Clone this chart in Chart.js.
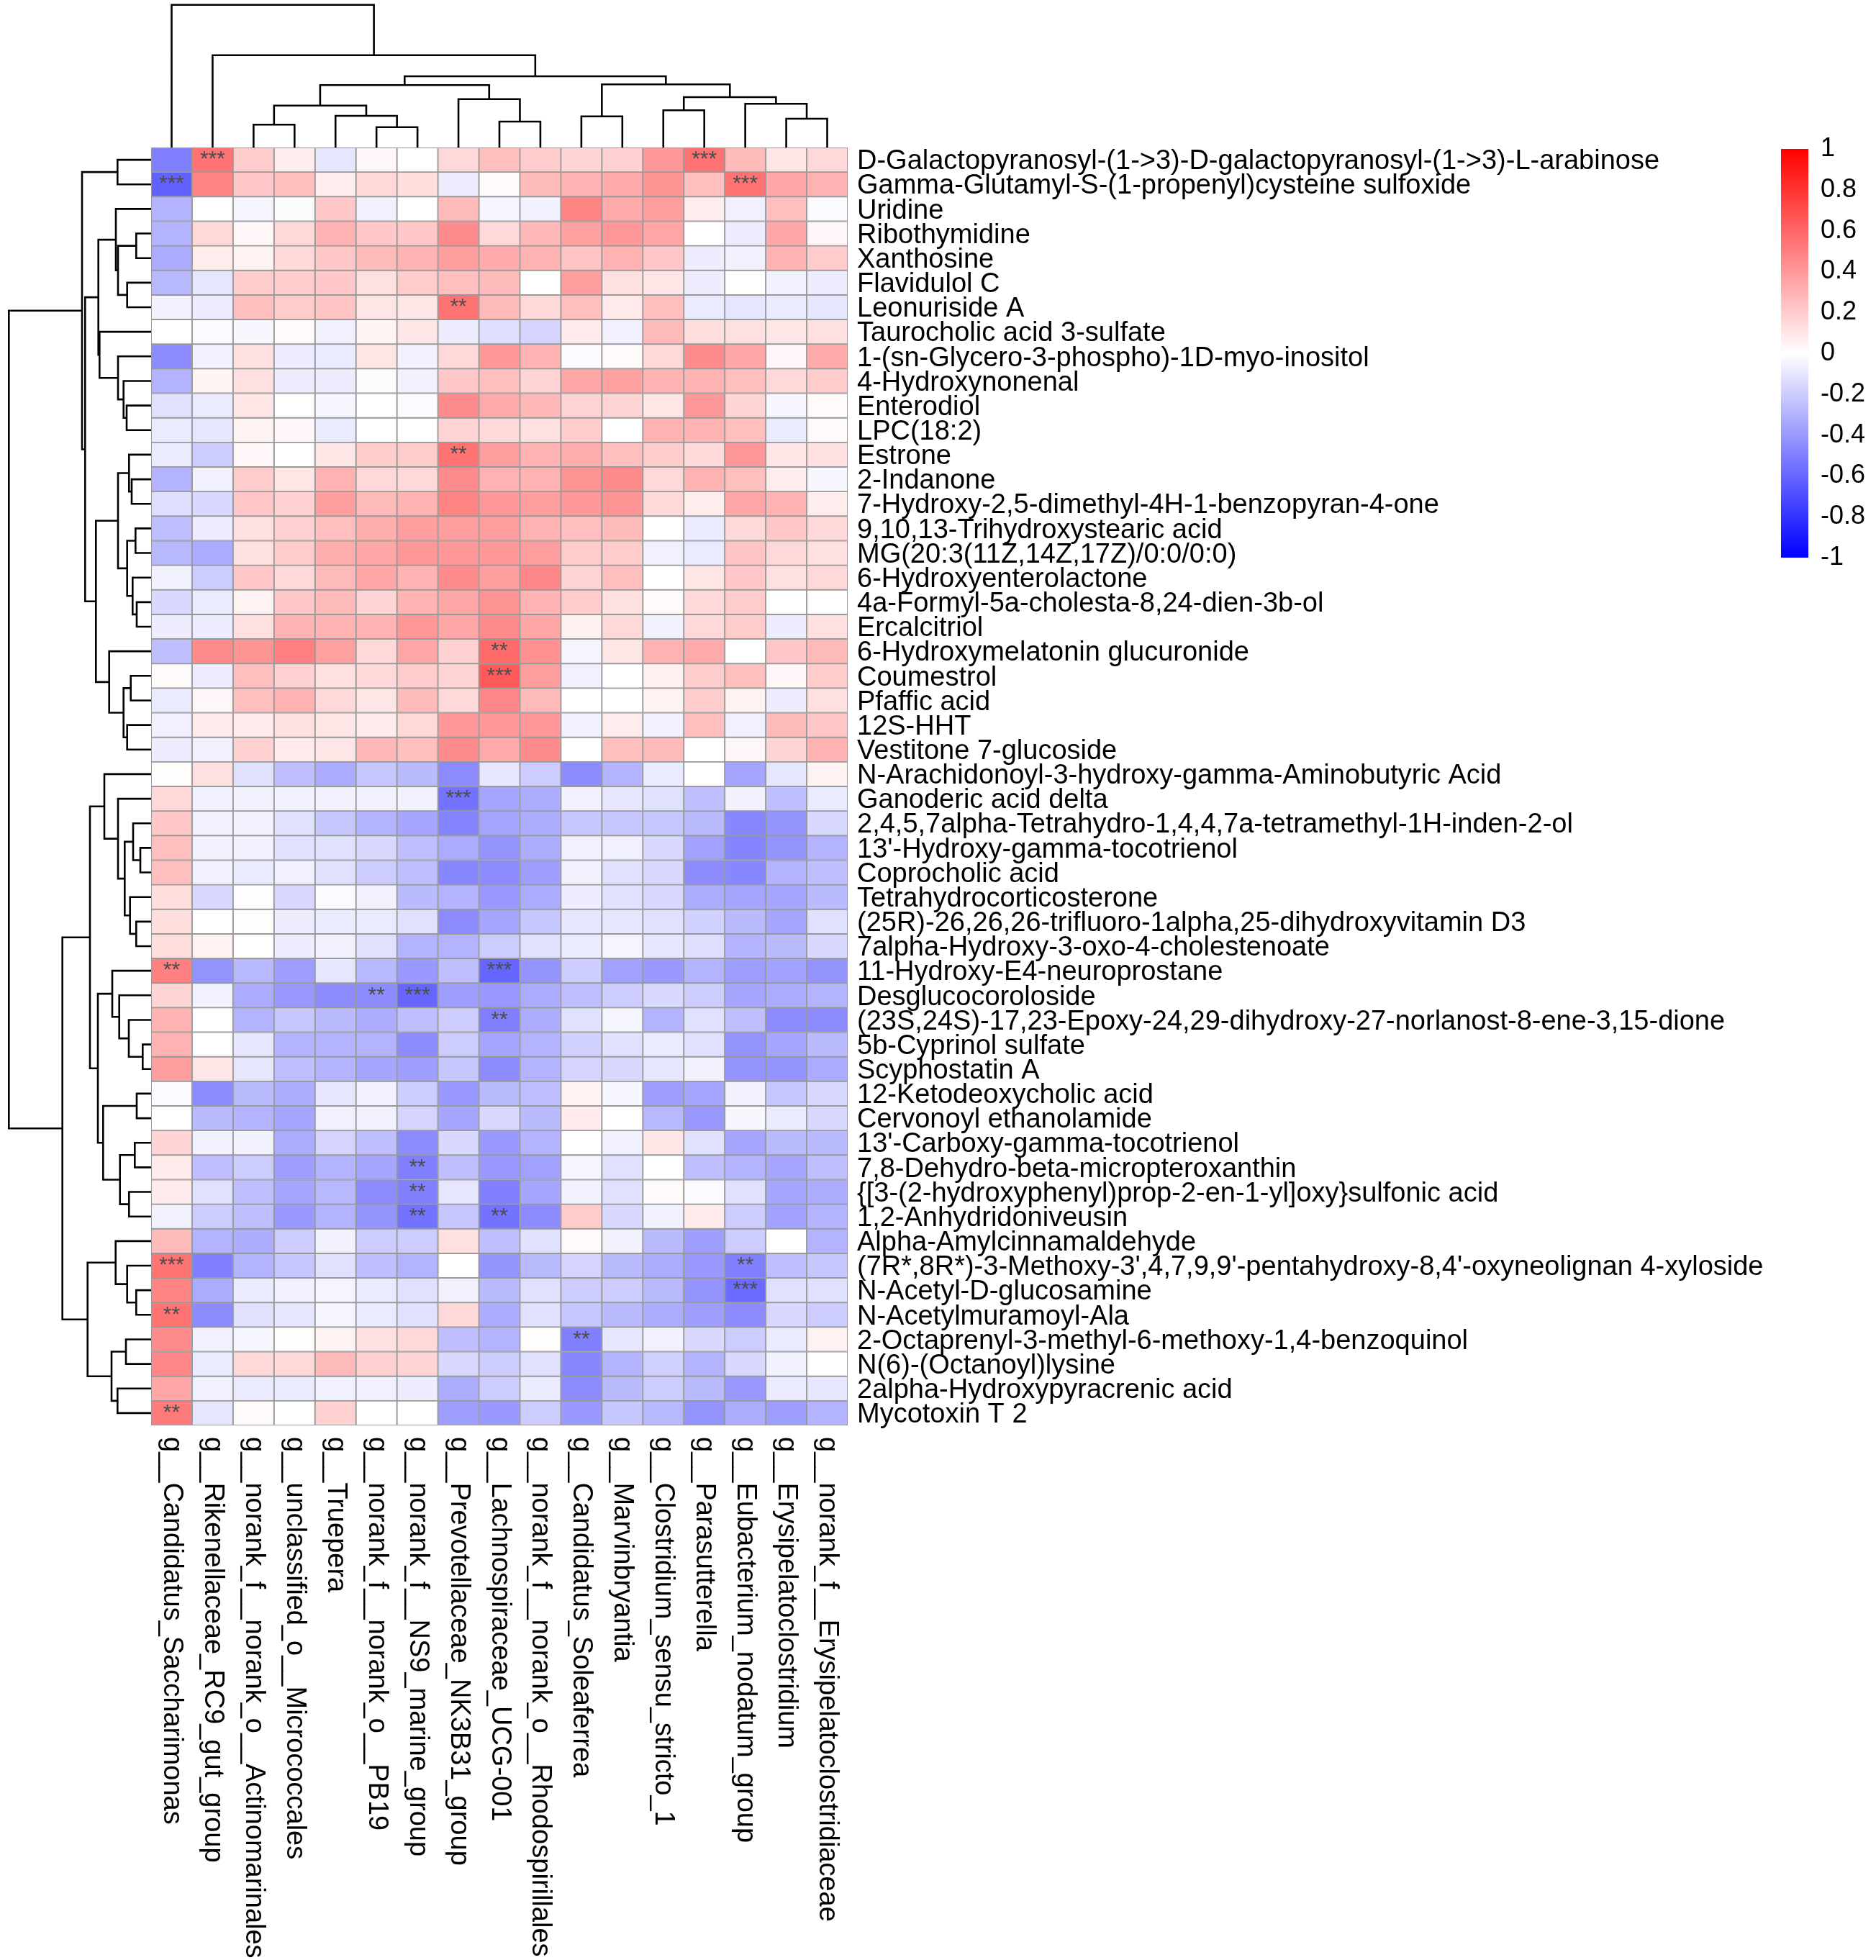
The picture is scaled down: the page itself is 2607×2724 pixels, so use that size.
<!DOCTYPE html>
<html>
<head>
<meta charset="utf-8">
<script src="https://cdn.jsdelivr.net/npm/chart.js@4.4.1/dist/chart.umd.min.js"></script>
<style>
  body { margin: 0; background: #fff; }
  #page { position: relative; width: 2607px; height: 2724px; overflow: hidden; background: #fff; }
  canvas { position: absolute; }
</style>
</head>
<body>
<div id="page">
  <canvas id="heat" width="2607" height="2724" style="left:0;top:0;width:2607px;height:2724px"></canvas>
  <canvas id="topTree" width="968" height="205" style="left:210px;top:0;width:968px;height:205px"></canvas>
  <canvas id="leftTree" width="210" height="1776" style="left:0;top:205px;width:210px;height:1776px"></canvas>
  <canvas id="colorKey" width="132" height="610" style="left:2475px;top:185px;width:132px;height:610px"></canvas>
</div>
<script>
// genera (columns), in dendrogram order
const genera = [
  "g__Candidatus_Saccharimonas", "g__Rikenellaceae_RC9_gut_group",
  "g__norank_f__norank_o__Actinomarinales", "g__unclassified_o__Micrococcales",
  "g__Truepera", "g__norank_f__norank_o__PB19", "g__norank_f__NS9_marine_group",
  "g__Prevotellaceae_NK3B31_group", "g__Lachnospiraceae_UCG-001",
  "g__norank_f__norank_o__Rhodospirillales", "g__Candidatus_Soleaferrea",
  "g__Marvinbryantia", "g__Clostridium_sensu_stricto_1", "g__Parasutterella",
  "g__Eubacterium_nodatum_group", "g__Erysipelatoclostridium",
  "g__norank_f__Erysipelatoclostridiaceae"
];

// metabolites (rows), in dendrogram order
const metabolites = [
  "D-Galactopyranosyl-(1->3)-D-galactopyranosyl-(1->3)-L-arabinose",
  "Gamma-Glutamyl-S-(1-propenyl)cysteine sulfoxide",
  "Uridine", "Ribothymidine", "Xanthosine", "Flavidulol C", "Leonuriside A",
  "Taurocholic acid 3-sulfate", "1-(sn-Glycero-3-phospho)-1D-myo-inositol",
  "4-Hydroxynonenal", "Enterodiol", "LPC(18:2)", "Estrone", "2-Indanone",
  "7-Hydroxy-2,5-dimethyl-4H-1-benzopyran-4-one", "9,10,13-Trihydroxystearic acid",
  "MG(20:3(11Z,14Z,17Z)/0:0/0:0)", "6-Hydroxyenterolactone",
  "4a-Formyl-5a-cholesta-8,24-dien-3b-ol", "Ercalcitriol",
  "6-Hydroxymelatonin glucuronide", "Coumestrol", "Pfaffic acid", "12S-HHT",
  "Vestitone 7-glucoside", "N-Arachidonoyl-3-hydroxy-gamma-Aminobutyric Acid",
  "Ganoderic acid delta", "2,4,5,7alpha-Tetrahydro-1,4,4,7a-tetramethyl-1H-inden-2-ol",
  "13'-Hydroxy-gamma-tocotrienol", "Coprocholic acid", "Tetrahydrocorticosterone",
  "(25R)-26,26,26-trifluoro-1alpha,25-dihydroxyvitamin D3",
  "7alpha-Hydroxy-3-oxo-4-cholestenoate", "11-Hydroxy-E4-neuroprostane",
  "Desglucocoroloside", "(23S,24S)-17,23-Epoxy-24,29-dihydroxy-27-norlanost-8-ene-3,15-dione",
  "5b-Cyprinol sulfate", "Scyphostatin A", "12-Ketodeoxycholic acid",
  "Cervonoyl ethanolamide", "13'-Carboxy-gamma-tocotrienol",
  "7,8-Dehydro-beta-micropteroxanthin",
  "{[3-(2-hydroxyphenyl)prop-2-en-1-yl]oxy}sulfonic acid", "1,2-Anhydridoniveusin",
  "Alpha-Amylcinnamaldehyde",
  "(7R*,8R*)-3-Methoxy-3',4,7,9,9'-pentahydroxy-8,4'-oxyneolignan 4-xyloside",
  "N-Acetyl-D-glucosamine", "N-Acetylmuramoyl-Ala",
  "2-Octaprenyl-3-methyl-6-methoxy-1,4-benzoquinol", "N(6)-(Octanoyl)lysine",
  "2alpha-Hydroxypyracrenic acid", "Mycotoxin T 2"
];

// correlation coefficients, one row per metabolite, one column per genus
const correlation = [
  [-0.50, 0.55, 0.20, 0.07, -0.10, 0.03, 0.00, 0.15, 0.25, 0.20, 0.17, 0.18, 0.40, 0.55, 0.27, 0.10, 0.15],
  [-0.62, 0.48, 0.22, 0.25, 0.07, 0.15, 0.13, -0.07, 0.02, 0.27, 0.30, 0.33, 0.42, 0.25, 0.55, 0.35, 0.30],
  [-0.30, 0.00, -0.04, -0.01, 0.22, -0.06, 0.00, 0.27, -0.04, -0.05, 0.48, 0.33, 0.38, 0.07, -0.06, 0.25, -0.02],
  [-0.30, 0.15, 0.03, 0.15, 0.30, 0.22, 0.22, 0.45, 0.15, 0.28, 0.37, 0.40, 0.35, 0.00, -0.07, 0.35, 0.03],
  [-0.33, 0.07, 0.05, 0.15, 0.22, 0.27, 0.30, 0.38, 0.33, 0.30, 0.23, 0.30, 0.22, -0.07, -0.05, 0.30, 0.20],
  [-0.28, -0.10, 0.20, 0.20, 0.22, 0.12, 0.20, 0.25, 0.27, 0.00, 0.38, 0.12, 0.10, -0.07, 0.00, -0.05, -0.07],
  [-0.05, -0.07, 0.25, 0.20, 0.23, 0.10, 0.10, 0.55, 0.27, 0.15, 0.25, 0.08, 0.25, -0.08, -0.10, -0.08, -0.10],
  [0.00, -0.02, -0.03, 0.02, -0.06, 0.04, 0.10, -0.07, -0.13, -0.17, 0.08, -0.06, 0.27, 0.13, 0.12, 0.10, 0.12],
  [-0.45, -0.05, 0.12, -0.07, -0.08, 0.10, -0.05, 0.15, 0.40, 0.30, -0.02, 0.02, 0.15, 0.45, 0.35, 0.03, 0.33],
  [-0.30, 0.04, 0.12, -0.07, -0.07, -0.01, -0.05, 0.22, 0.25, 0.17, 0.35, 0.37, 0.30, 0.30, 0.25, 0.15, 0.20],
  [-0.12, -0.08, 0.10, 0.00, -0.03, 0.00, -0.02, 0.45, 0.33, 0.28, 0.17, 0.17, 0.10, 0.40, 0.17, -0.03, 0.02],
  [-0.08, -0.10, 0.05, 0.03, -0.08, 0.00, 0.00, 0.17, 0.15, 0.12, 0.20, 0.00, 0.30, 0.30, 0.25, -0.08, 0.02],
  [-0.08, -0.20, 0.03, 0.00, 0.10, 0.20, 0.20, 0.55, 0.38, 0.30, 0.32, 0.25, 0.20, 0.15, 0.40, 0.10, 0.12],
  [-0.30, -0.05, 0.20, 0.10, 0.30, 0.15, 0.15, 0.45, 0.30, 0.30, 0.42, 0.45, 0.15, 0.30, 0.25, 0.07, -0.03],
  [-0.13, -0.15, 0.22, 0.18, 0.38, 0.27, 0.30, 0.48, 0.40, 0.38, 0.40, 0.42, 0.15, 0.07, 0.35, 0.30, 0.07],
  [-0.25, -0.07, 0.12, 0.18, 0.25, 0.32, 0.38, 0.38, 0.38, 0.30, 0.25, 0.27, 0.00, -0.08, 0.15, 0.22, 0.15],
  [-0.28, -0.33, 0.12, 0.20, 0.32, 0.35, 0.40, 0.40, 0.40, 0.38, 0.20, 0.20, -0.06, -0.08, 0.23, 0.15, 0.12],
  [-0.05, -0.20, 0.22, 0.15, 0.27, 0.35, 0.30, 0.45, 0.38, 0.47, 0.17, 0.25, 0.00, 0.10, 0.22, 0.12, 0.15],
  [-0.15, -0.08, 0.05, 0.22, 0.27, 0.17, 0.30, 0.35, 0.42, 0.30, 0.20, 0.12, 0.02, 0.15, 0.20, 0.00, 0.00],
  [-0.07, -0.07, 0.12, 0.30, 0.30, 0.30, 0.40, 0.35, 0.45, 0.35, 0.06, 0.15, -0.06, 0.15, 0.20, -0.07, 0.12],
  [-0.25, 0.45, 0.42, 0.50, 0.37, 0.15, 0.35, 0.18, 0.58, 0.43, -0.04, 0.10, 0.30, 0.33, 0.00, 0.22, 0.27],
  [0.02, -0.07, 0.25, 0.18, 0.12, 0.15, 0.20, 0.17, 0.65, 0.38, -0.06, 0.00, 0.06, 0.20, 0.25, 0.03, 0.20],
  [-0.08, 0.03, 0.25, 0.30, 0.15, 0.10, 0.27, 0.15, 0.47, 0.27, 0.00, 0.00, 0.05, 0.20, 0.05, -0.07, 0.12],
  [-0.06, 0.08, 0.08, 0.12, 0.10, 0.08, 0.15, 0.40, 0.40, 0.40, -0.05, 0.07, -0.05, 0.25, -0.06, 0.27, 0.22],
  [-0.07, -0.05, 0.18, 0.08, 0.10, 0.28, 0.25, 0.45, 0.33, 0.45, 0.00, 0.25, 0.27, 0.00, 0.03, 0.17, 0.30],
  [0.01, 0.12, -0.12, -0.25, -0.33, -0.22, -0.27, -0.45, -0.10, -0.20, -0.45, -0.30, -0.08, 0.00, -0.35, -0.10, 0.05],
  [0.15, -0.05, -0.05, -0.05, -0.05, -0.05, -0.05, -0.55, -0.35, -0.32, -0.05, -0.10, -0.12, -0.25, -0.05, -0.25, -0.08],
  [0.22, -0.05, -0.05, -0.12, -0.22, -0.30, -0.35, -0.48, -0.35, -0.32, -0.22, -0.22, -0.22, -0.27, -0.47, -0.42, -0.15],
  [0.25, -0.05, -0.05, -0.12, -0.12, -0.15, -0.25, -0.33, -0.42, -0.32, -0.06, -0.06, -0.15, -0.37, -0.48, -0.42, -0.30],
  [0.25, -0.05, -0.08, -0.06, -0.12, -0.20, -0.25, -0.47, -0.45, -0.38, -0.05, -0.12, -0.15, -0.45, -0.47, -0.30, -0.25],
  [0.13, -0.15, 0.01, -0.15, -0.02, -0.05, -0.27, -0.30, -0.40, -0.33, -0.07, -0.12, -0.15, -0.32, -0.35, -0.35, -0.27],
  [0.13, 0.00, 0.01, -0.07, -0.08, -0.08, -0.12, -0.45, -0.35, -0.22, -0.10, -0.10, -0.12, -0.18, -0.27, -0.35, -0.12],
  [0.13, 0.05, 0.00, -0.07, -0.05, -0.12, -0.30, -0.30, -0.20, -0.12, -0.08, -0.04, -0.10, -0.13, -0.30, -0.27, -0.15],
  [0.50, -0.42, -0.28, -0.38, -0.10, -0.28, -0.40, -0.25, -0.60, -0.42, -0.20, -0.37, -0.40, -0.30, -0.38, -0.37, -0.42],
  [0.17, -0.05, -0.33, -0.40, -0.45, -0.45, -0.60, -0.38, -0.40, -0.33, -0.25, -0.20, -0.15, -0.20, -0.35, -0.33, -0.30],
  [0.30, 0.00, -0.30, -0.22, -0.27, -0.32, -0.25, -0.20, -0.50, -0.32, -0.12, -0.04, -0.30, -0.12, -0.25, -0.45, -0.45],
  [0.30, 0.00, -0.10, -0.30, -0.30, -0.30, -0.45, -0.20, -0.35, -0.30, -0.18, -0.12, -0.08, -0.12, -0.42, -0.35, -0.27],
  [0.38, 0.10, -0.10, -0.25, -0.30, -0.35, -0.38, -0.22, -0.45, -0.30, -0.17, -0.15, -0.10, -0.05, -0.42, -0.42, -0.33],
  [-0.02, -0.45, -0.27, -0.32, -0.10, -0.05, -0.20, -0.40, -0.27, -0.25, 0.05, -0.03, -0.38, -0.35, -0.05, -0.22, -0.15],
  [0.00, -0.27, -0.30, -0.35, -0.06, -0.05, -0.17, -0.35, -0.15, -0.27, 0.08, 0.00, -0.28, -0.40, -0.03, -0.08, -0.15],
  [0.17, -0.05, -0.05, -0.32, -0.17, -0.25, -0.45, -0.15, -0.40, -0.30, 0.00, -0.06, 0.10, -0.12, -0.35, -0.27, -0.27],
  [0.08, -0.25, -0.20, -0.38, -0.30, -0.35, -0.50, -0.25, -0.40, -0.37, -0.04, -0.12, 0.00, -0.25, -0.30, -0.35, -0.25],
  [0.08, -0.12, -0.25, -0.35, -0.28, -0.45, -0.50, -0.10, -0.50, -0.35, -0.05, -0.12, 0.02, -0.02, -0.12, -0.35, -0.32],
  [-0.05, -0.20, -0.25, -0.40, -0.30, -0.42, -0.55, -0.22, -0.55, -0.45, 0.20, -0.15, -0.05, 0.08, -0.20, -0.37, -0.30],
  [0.27, -0.30, -0.32, -0.20, -0.05, -0.20, -0.20, 0.12, -0.25, -0.12, 0.02, -0.05, -0.27, -0.38, -0.20, 0.00, -0.30],
  [0.55, -0.50, -0.30, -0.22, -0.12, -0.25, -0.30, 0.00, -0.42, -0.27, -0.17, -0.27, -0.32, -0.40, -0.50, -0.25, -0.22],
  [0.48, -0.32, -0.08, -0.06, -0.04, -0.08, -0.12, -0.05, -0.27, -0.12, -0.20, -0.20, -0.27, -0.42, -0.58, -0.12, -0.12],
  [0.55, -0.45, -0.12, -0.10, -0.04, -0.08, -0.12, 0.15, -0.33, -0.12, -0.22, -0.27, -0.32, -0.38, -0.45, -0.15, -0.20],
  [0.45, -0.06, -0.03, 0.01, 0.05, 0.12, 0.15, -0.25, -0.30, 0.01, -0.50, -0.10, -0.05, -0.15, -0.20, -0.08, 0.05],
  [0.47, -0.08, 0.15, 0.15, 0.27, 0.18, 0.17, -0.15, -0.20, -0.12, -0.47, -0.30, -0.18, -0.30, -0.15, -0.05, 0.00],
  [0.35, -0.06, -0.08, -0.08, -0.06, -0.06, -0.07, -0.32, -0.20, -0.08, -0.45, -0.27, -0.20, -0.27, -0.40, -0.08, -0.10],
  [0.52, -0.10, 0.02, 0.00, 0.18, 0.00, 0.00, -0.38, -0.40, -0.20, -0.40, -0.22, -0.28, -0.42, -0.32, -0.38, -0.30]
];

// significance marks: [row, column, label]
const significance = [
  [0, 1, "***"], [0, 13, "***"], [1, 0, "***"], [1, 14, "***"], [6, 7, "**"], [12, 7, "**"],
  [20, 8, "**"], [21, 8, "***"], [26, 7, "***"], [33, 0, "**"], [33, 8, "***"],
  [34, 5, "**"], [34, 6, "***"], [35, 8, "**"], [41, 6, "**"], [42, 6, "**"],
  [43, 6, "**"], [43, 8, "**"], [45, 0, "***"], [45, 14, "**"], [46, 14, "***"],
  [47, 0, "**"], [48, 10, "**"], [51, 0, "**"]
];

// dendrograms: leaf = index, node = [left, right, height]
const genusTree = [0, [1, [
  [[[2, 3, 31.7], [4, [5, 6, 28.3], 44], 58.3], [7, [8, 9, 36], 67.3], 86.7],
  [[10, 11, 43.3], [[12, 13, 51.7], [14, [15, 16, 40], 60.7], 70], 87.7],
  99], 128.3], 198.3];

const upperRows = [[0, 1, 46.7], [
  [[2, [[3, 4, 20.7], [5, 6, 33.3], 46], 49], [7, [8, [9, [10, 11, 34], 38.3], 46], 71.7], 73.3],
  [[[12, [13, 14, 27], 30.7], [[15, 16, 21.7], [17, [18, 19, 20], 25.7], 33.3], 46],
   [20, [[21, 22, 28.3], [23, 24, 33.3], 38.3], 58.3], 76.7],
  91.7], 96];
const lowerRows = [[
  [25, [26, [[27, [28, 29, 15], 25], [30, [31, 32, 20.7], 29.3], 36.7], 46], 65],
  [[33, [34, [35, [36, 37, 11.7], 31], 44.3], 54], [[38, 39, 20], [[40, 41, 22.7], [42, 43, 30.7], 43.3], 66.7], 74],
  85], [[44, [45, [46, 47, 20.7], 33.3], 49.3], [[48, 49, 35], [50, 51, 46.7], 55], 88.3], 123.3];
const metaboliteTree = [upperRows, lowerRows, 197.7];

const keyTicks = [-1, -0.8, -0.6, -0.4, -0.2, 0, 0.2, 0.4, 0.6, 0.8, 1];

const FONT = '"Liberation Sans", Arial, Helvetica, sans-serif';
Chart.defaults.font.family = FONT;
Chart.defaults.color = "#000";

function heatColour(v) {
  const t = Math.max(-1, Math.min(1, v));
  let r, g, b;
  if (t >= 0) { r = 255; g = b = Math.round(255 * (1 - t)); }
  else { b = 255; r = g = Math.round(255 * (1 + t)); }
  return "rgb(" + r + "," + g + "," + b + ")";
}

// walk a tree and collect the U-shaped links as point runs split by gaps
function treeLinks(node, out) {
  if (typeof node === "number") return { pos: node + 0.5, h: 0 };
  const a = treeLinks(node[0], out);
  const b = treeLinks(node[1], out);
  const h = node[2];
  out.push({ pos: a.pos, h: a.h }, { pos: a.pos, h: h }, { pos: b.pos, h: h }, { pos: b.pos, h: b.h }, null);
  return { pos: (a.pos + b.pos) / 2, h: h };
}

// heatmap
const cells = [];
const cellColours = [];
correlation.forEach((row, r) => {
  row.forEach((v, c) => {
    cells.push({ x: genera[c], y: [r, r + 1] });
    cellColours.push(heatColour(v));
  });
});

const cellText = {
  id: "cellText",
  afterDatasetsDraw(chart) {
    const { ctx, scales: { x, y }, chartArea } = chart;
    ctx.save();
    ctx.fillStyle = "#4d4d4d";
    ctx.font = "30px " + FONT;
    ctx.textAlign = "center";
    ctx.textBaseline = "middle";
    significance.forEach(([r, c, s]) => {
      ctx.fillText(s, x.getPixelForValue(c), y.getPixelForValue(r + 0.5));
    });
    // column labels, turned to read downwards
    ctx.fillStyle = "#000";
    ctx.font = "38px " + FONT;
    ctx.textAlign = "left";
    genera.forEach((g, c) => {
      ctx.save();
      ctx.translate(x.getPixelForValue(c), chartArea.bottom + 16);
      ctx.rotate(Math.PI / 2);
      ctx.fillText(g, 0, 0);
      ctx.restore();
    });
    ctx.restore();
  }
};

new Chart(document.getElementById("heat"), {
  type: "bar",
  data: {
    labels: genera,
    datasets: [{
      data: cells,
      backgroundColor: cellColours,
      borderColor: "#999999",
      borderWidth: 1.3,
      borderSkipped: false,
      barPercentage: 1,
      categoryPercentage: 1
    }]
  },
  options: {
    responsive: false,
    devicePixelRatio: 1,
    animation: false,
    layout: { padding: { left: 210, top: 205, bottom: 743, right: 0 } },
    plugins: { legend: { display: false }, tooltip: { enabled: false } },
    scales: {
      x: { type: "category", display: false },
      y: {
        type: "linear",
        position: "right",
        reverse: true,
        min: 0,
        max: metabolites.length,
        grid: { display: false, drawTicks: false },
        border: { display: false },
        afterBuildTicks: s => { s.ticks = metabolites.map((_, i) => ({ value: i + 0.58 })); },
        afterFit: s => { s.width = 1429; s.paddingTop = 0; s.paddingBottom = 0; },
        ticks: {
          autoSkip: false,
          padding: 13,
          font: { size: 38 },
          color: "#000",
          callback: v => metabolites[Math.floor(v)]
        }
      }
    }
  },
  plugins: [cellText]
});

// top dendrogram (genera)
const genusLinks = [];
treeLinks(genusTree, genusLinks);
new Chart(document.getElementById("topTree"), {
  type: "scatter",
  data: {
    datasets: [{
      data: genusLinks.map(p => p ? { x: p.pos, y: p.h } : { x: null, y: null }),
      showLine: true,
      borderColor: "#000",
      borderWidth: 2.6,
      pointRadius: 0,
      spanGaps: false,
      clip: false
    }]
  },
  options: {
    responsive: false,
    devicePixelRatio: 1,
    animation: false,
    layout: { padding: 0 },
    plugins: { legend: { display: false }, tooltip: { enabled: false } },
    scales: {
      x: { type: "linear", min: 0, max: genera.length, display: false },
      y: { type: "linear", min: 0, max: 205, display: false }
    }
  }
});

// left dendrogram (metabolites)
const metaboliteLinks = [];
treeLinks(metaboliteTree, metaboliteLinks);
new Chart(document.getElementById("leftTree"), {
  type: "scatter",
  data: {
    datasets: [{
      data: metaboliteLinks.map(p => p ? { x: p.h, y: p.pos } : { x: null, y: null }),
      showLine: true,
      borderColor: "#000",
      borderWidth: 2.6,
      pointRadius: 0,
      spanGaps: false,
      clip: false
    }]
  },
  options: {
    responsive: false,
    devicePixelRatio: 1,
    animation: false,
    layout: { padding: 0 },
    plugins: { legend: { display: false }, tooltip: { enabled: false } },
    scales: {
      x: { type: "linear", min: 0, max: 210, reverse: true, display: false },
      y: { type: "linear", min: 0, max: metabolites.length, reverse: true, display: false }
    }
  }
});

// colour key
new Chart(document.getElementById("colorKey"), {
  type: "bar",
  data: {
    labels: ["key"],
    datasets: [{
      data: [[keyTicks[0], keyTicks[keyTicks.length - 1]]],
      backgroundColor: ctx => {
        const area = ctx.chart.chartArea;
        if (!area) return "#fff";
        const g = ctx.chart.ctx.createLinearGradient(0, area.bottom, 0, area.top);
        g.addColorStop(0, heatColour(-1));
        g.addColorStop(0.5, heatColour(0));
        g.addColorStop(1, heatColour(1));
        return g;
      },
      borderWidth: 0,
      barPercentage: 1,
      categoryPercentage: 1
    }]
  },
  options: {
    responsive: false,
    devicePixelRatio: 1,
    animation: false,
    layout: { padding: { top: 22, bottom: 20, left: 0, right: 0 } },
    plugins: { legend: { display: false }, tooltip: { enabled: false } },
    scales: {
      x: { display: false },
      y: {
        position: "right",
        min: -1,
        max: 1,
        grid: { display: false, drawTicks: false },
        border: { display: false },
        afterBuildTicks: s => { s.ticks = keyTicks.map(v => ({ value: v })); },
        afterFit: s => { s.width = 94; s.paddingTop = 0; s.paddingBottom = 0; },
        ticks: {
          padding: 17,
          font: { size: 36 },
          color: "#000",
          callback: v => String(Math.round(v * 10) / 10)
        }
      }
    }
  }
});
</script>
</body>
</html>
